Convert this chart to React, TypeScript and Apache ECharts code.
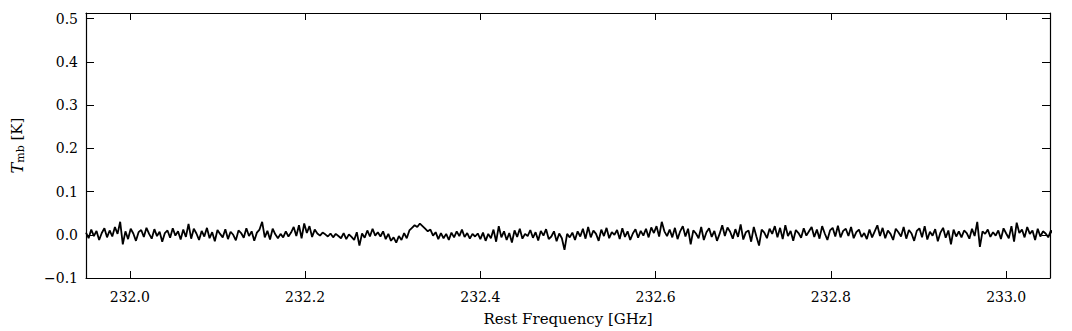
import { useEffect, useRef } from "react";
import * as echarts from "echarts";

// Spectrum channels (frequency axis in GHz)
const FREQ_START = 231.95;
const FREQ_STEP = 0.003;

// Brightness temperature per channel, in mK
const seg1 = [5, -8, 12, -3, 9, -12, 4, 15, -6, 10, -4, 18, 2, 30, -22, 8, -10, 14, 3, -14, 6, 11, -5, 16, 2, -9, 13, -3, 7, -16, 4, 10, -7, 15, -2, 8, -11];
const seg2 = [12, -5, 25, -9, 14, 3, -12, 9, -4, 16, -8, 6, -15, 11, 2, -6, 13, -10, 7, 0, -13, 10, 4, -7, 15, -3, 8, -14, 5, 12, 30, -6, 9, -11, 14, 1, -8];
const seg3 = [2, -6, 8, -4, 5, 18, -3, 22, -8, 26, 4, 20, -5, 12, 3, -2, 5, 1, -4, 3, -6, 2, -3, -8, 4, -10, 1, -5, -12, 6, -25, 3, -7, 10, -4, 14, -2];
const seg4 = [6, -4, 8, -10, 2, -14, -6, -18, -3, -12, 4, -8, 10, 16, 22, 18, 26, 20, 14, 8, 12, -2, 6, -10, 4, -8, 2, -12, 5, -6, 8, -3, 12, -5, 4, -9, 2];
const seg5 = [-4, 3, -10, 5, -14, 2, -8, 12, -16, 20, -6, 8, -12, 4, -18, 10, -5, 14, -9, 2, -3, 11, -7, 6, -13, 9, -2, 13, -10, -4, 8, -15, 3, -8, -35, 2, -6];
const seg6 = [5, -12, 8, -4, 14, -9, 18, -6, 10, 2, -14, 12, -3, 16, -8, 6, 0, 11, -10, 15, -5, 8, -12, 3, 13, -7, 9, -2, 14, -6, 17, 4, 20, -4, 30, 8, -3];
const seg7 = [12, -6, 16, -10, 8, 20, -4, 14, -22, 10, 3, -8, 18, -12, 6, 15, -5, 9, -14, 2, 22, -3, 17, 7, -9, 13, -5, 24, -11, 6, 10, -16, 18, -4, -25, 12, 5];
const seg8 = [-8, 14, 2, 20, -6, 16, -10, 22, -3, 9, -14, 11, 4, -7, 15, -2, 8, 18, -5, 12, -9, 20, 3, -12, 10, 16, -4, 21, -6, 9, 14, -3, 18, -8, 6, 12, -5];
const seg9 = [4, -10, 12, -6, 8, 22, -3, 16, -8, 10, 2, -12, 14, 6, -4, 18, -9, 11, 3, -14, 9, 15, -6, 20, -11, 7, -2, 13, -15, 5, 16, -7, 10, -22, 12, -4, 8];
const seg10 = [-6, 10, 4, -9, 14, -3, 30, -28, 8, 2, 12, -5, 6, -2, 10, -10, 15, 3, -8, 20, -16, 28, 4, 12, -6, 18, 2, 10, -12, 14, -4, 8, 3, -6, 10, 0, 5];

const X_MIN = 231.95;
const X_MAX = 233.05;
const Y_MIN = -0.1;
const Y_MAX = 0.513;
const X_TICKS = [232.0, 232.2, 232.4, 232.6, 232.8, 233.0];
const Y_TICKS = [-0.1, 0, 0.1, 0.2, 0.3, 0.4, 0.5];

const FONT = "DejaVu Serif";

export default function App() {
  const ref = useRef<HTMLDivElement>(null);

  useEffect(() => {
    if (!ref.current) return;
    const chart = echarts.init(ref.current, undefined, { renderer: "svg" });
    const mk = [...seg1, ...seg2, ...seg3, ...seg4, ...seg5, ...seg6, ...seg7, ...seg8, ...seg9, ...seg10];
    const data = mk.map((v, i) => [FREQ_START + i * FREQ_STEP, v / 1000]);

    const axisLine = { show: true, onZero: false, lineStyle: { color: "#000", width: 1.2 } };
    const label = { color: "#000", fontFamily: FONT, fontSize: 14 };
    const tickStyle = { color: "#000", width: 1 };

    chart.setOption({
      animation: false,
      grid: { left: 86, right: 22, top: 13, bottom: 50, containLabel: false },
      xAxis: [
        {
          type: "value",
          min: X_MIN,
          max: X_MAX,
          position: "bottom",
          axisLine,
          splitLine: { show: false },
          axisTick: { show: true, inside: true, length: 7, customValues: X_TICKS, lineStyle: tickStyle },
          axisLabel: { ...label, margin: 12, customValues: X_TICKS, formatter: (v: number) => v.toFixed(1) },
          name: "Rest Frequency [GHz]",
          nameLocation: "middle",
          nameGap: 33,
          nameTextStyle: { color: "#000", fontFamily: FONT, fontSize: 15 },
        },
        {
          type: "value",
          min: X_MIN,
          max: X_MAX,
          position: "top",
          axisLine,
          splitLine: { show: false },
          axisTick: { show: true, inside: true, length: 7, customValues: X_TICKS, lineStyle: tickStyle },
          axisLabel: { show: false },
        },
      ],
      yAxis: [
        {
          type: "value",
          min: Y_MIN,
          max: Y_MAX,
          position: "left",
          axisLine,
          splitLine: { show: false },
          axisTick: { show: true, inside: true, length: 8, customValues: Y_TICKS, lineStyle: tickStyle },
          axisLabel: {
            ...label,
            margin: 8,
            customValues: Y_TICKS,
            formatter: (v: number) => (v < 0 ? "\u2212" + Math.abs(v).toFixed(1) : v.toFixed(1)),
          },
          name: "{it|T}{sub|mb} [K]",
          nameLocation: "middle",
          nameRotate: 90,
          nameGap: 60,
          nameTextStyle: {
            color: "#000",
            fontFamily: FONT,
            fontSize: 15,
            rich: {
              it: { fontFamily: FONT, fontSize: 16, fontStyle: "italic", color: "#000" },
              sub: { fontFamily: FONT, fontSize: 11, color: "#000", verticalAlign: "bottom", padding: [7, 0, 0, 0] },
            },
          },
        },
        {
          type: "value",
          min: Y_MIN,
          max: Y_MAX,
          position: "right",
          axisLine,
          splitLine: { show: false },
          axisTick: { show: true, inside: true, length: 8, customValues: Y_TICKS, lineStyle: tickStyle },
          axisLabel: { show: false },
        },
      ],
      series: [
        {
          type: "line",
          xAxisIndex: 0,
          yAxisIndex: 0,
          symbol: "none",
          clip: true,
          data,
          lineStyle: { color: "#000", width: 1.8 },
        },
      ],
    });

    return () => chart.dispose();
  }, []);

  return (
    <div
      ref={ref}
      style={{ position: "fixed", left: 0, top: 0, width: 1072, height: 331, background: "#fff" }}
    />
  );
}
